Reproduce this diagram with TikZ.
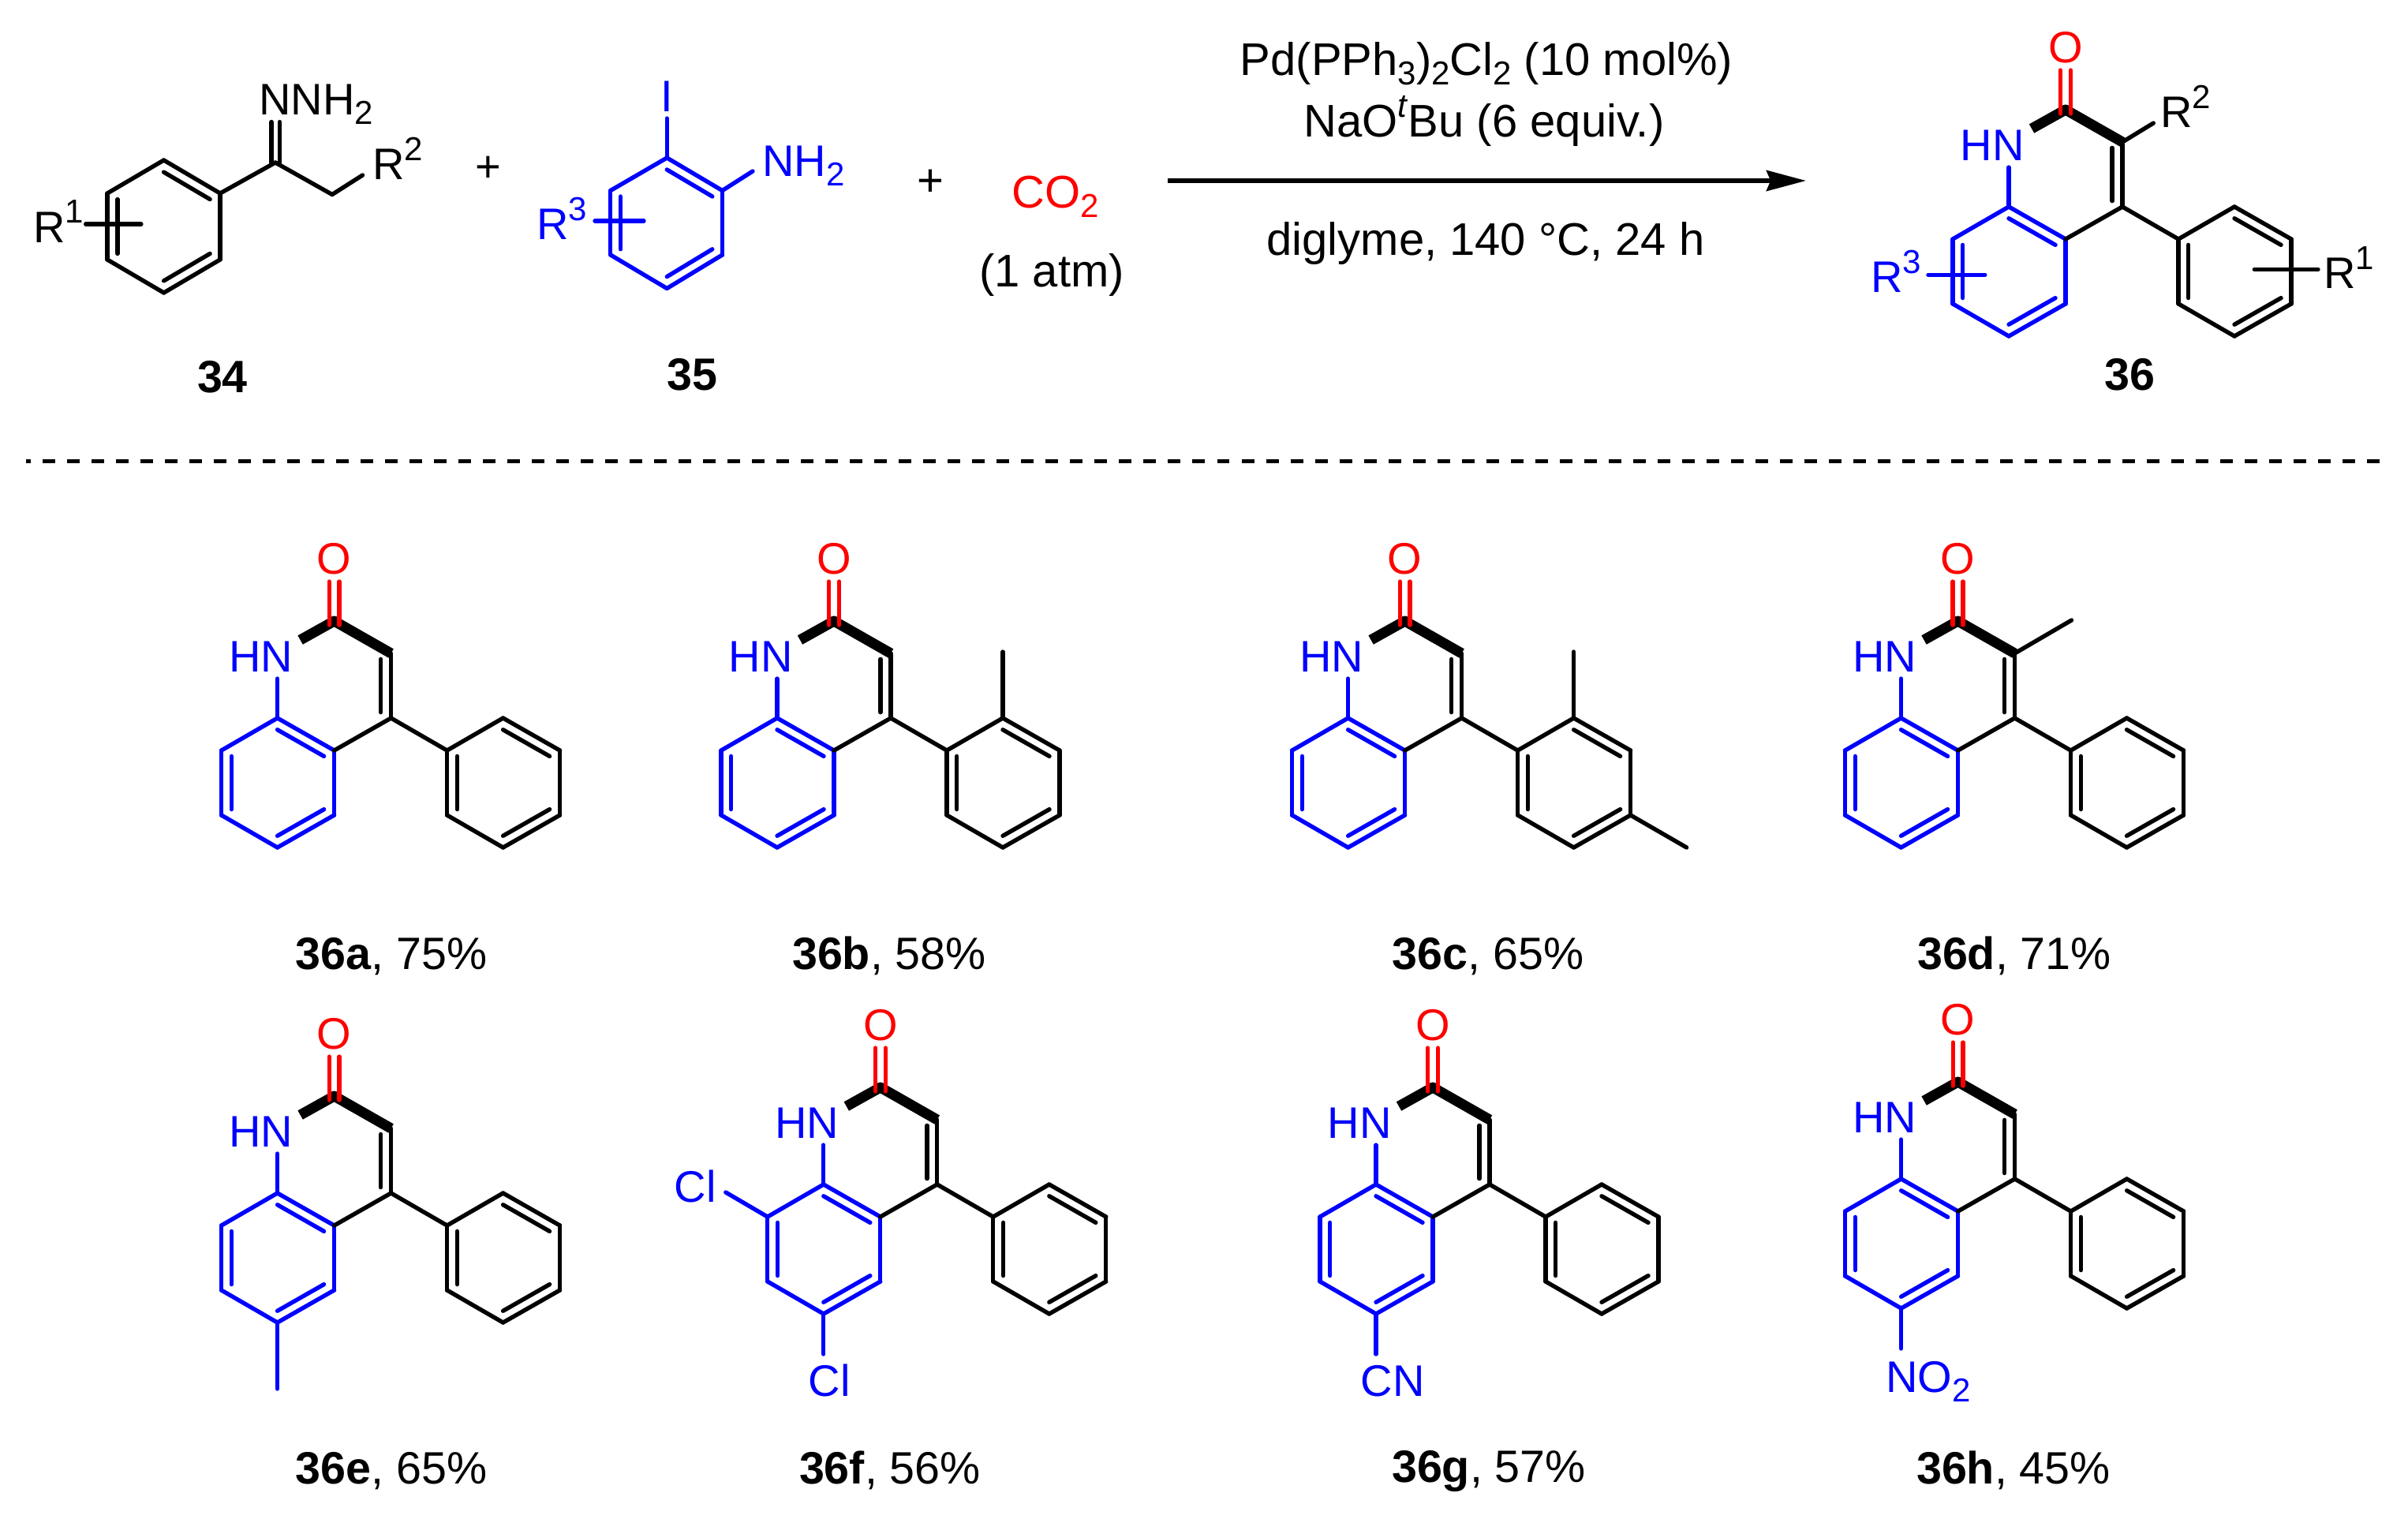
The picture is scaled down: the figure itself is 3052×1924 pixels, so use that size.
\documentclass[tikz,border=0pt]{standalone}
\usepackage{fontspec}
\setmainfont{Liberation Sans}
\usetikzlibrary{calc}
\usetikzlibrary{arrows.meta}
\newcommand{\atomfont}{\fontsize{31.87}{36}\selectfont}
\newcommand{\condfont}{\fontsize{33}{38}\selectfont}
\newcommand{\capfont}{\fontsize{32.7}{38}\selectfont}
\newcommand{\chsub}[1]{\raisebox{-7.1pt}{\fontsize{23.9}{26}\selectfont #1}}
\newcommand{\chsup}[1]{\raisebox{13.7pt}{\fontsize{23.9}{26}\selectfont #1}}
\tikzstyle{bond}=[draw,line width=3.05pt,line cap=round,line join=round]
\tikzstyle{boldbond}=[draw,line width=7.4pt,line join=round]
\tikzstyle{atom}=[font=\atomfont,inner sep=0pt,anchor=base]
\tikzstyle{atomw}=[font=\atomfont,inner sep=0pt,anchor=base west]
\tikzstyle{cond}=[font=\condfont,inner sep=0pt,anchor=base]
\tikzstyle{caption}=[font=\capfont,inner sep=0pt,anchor=base]

\begin{document}
\begin{tikzpicture}[x=0.02cm,y=-0.02cm]
    \useasboundingbox (0,0) rectangle (3052,1924);

    % The quinolinone, drawn once for the product and once for each entry
    \foreach \dx/\dy/\id in {2618/139/p, 423.6/787/a, 1057/787/b, 1780.6/787/c, 2481.5/787/d, 423.6/1389/e, 1115.8/1378/f, 1816/1378/g, 2481.6/1371/h}{
    \begin{scope}[shift={(\dx,\dy)},name prefix=\id-]
    \foreach \pos/\name in {{(0,0)/C2}, {(72,41)/C3}, {(72,123)/C4}, {(0,164)/C4a}, {(-72,123)/C8a}, {(-143,164)/C8}, {(-143,246)/C7}, {(-72,287)/C6}, {(0,246)/C5}, {(-72,73)/Nb}, {(-43,24)/Nw}, {(-72,205)/Rb}, {(0,82)/Rp}, {(143,164)/Pi}, {(214,123)/Po}, {(286,164)/Pm}, {(286,246)/Pp}, {(214,287)/Pn}, {(143,246)/Pq}, {(214,205)/Rf}, {(-6.4,-50)/Oa}, {(-6.4,5)/Ob}, {(6.4,-50)/Oc}, {(6.4,5)/Od}}
        \node[coordinate] (\name) at \pos {};

    \node[atom,blue] (HN) at (-93,64) {HN};
    \node[atom,red] (O) at (0,-60) {O};

    % Connect the vertices, inner lines of the double bonds last
    \foreach \source/\dest in {C4a/C8a, C8a/C8, C8/C7, C7/C6, C6/C5, C5/C4a, C8a/Nb}
        \path[bond,blue] (\source) -- (\dest);
    \foreach \source/\dest/\ring in {C8a/C4a/Rb, C8/C7/Rb, C6/C5/Rb}
        \path[bond,blue] ($(\source)!.18!(\ring)$) -- ($(\dest)!.18!(\ring)$);
    \foreach \source/\dest in {C3/C4, C4/C4a, C4/Pi, Pi/Po, Po/Pm, Pm/Pp, Pp/Pn, Pn/Pq, Pq/Pi}
        \path[bond] (\source) -- (\dest);
    \foreach \source/\dest/\ring in {C3/C4/Rp, Pi/Pq/Rf, Po/Pm/Rf, Pp/Pn/Rf}
        \path[bond] ($(\source)!.18!(\ring)$) -- ($(\dest)!.18!(\ring)$);
    \path[boldbond] (Nw) -- (C2) -- (C3);
    \path[bond,red] (Oa) -- (Ob);
    \path[bond,red] (Oc) -- (Od);
    \end{scope}
    }

    % Substituents of the entries
    \foreach \source/\ox/\oy/\col in {b-Po/0/-84/black, c-Po/0/-84/black, c-Pp/71/41/black, d-C3/72/-42/black, e-C6/0/84/blue, f-C8/-53/-31/blue, f-C6/0/51/blue, g-C6/0/51/blue, h-C6/0/51/blue}{
        \coordinate (\source-end) at ($(\source)+(\ox,\oy)$);
        \path[bond,\col] (\source) -- (\source-end);
    }
    \node[atom,blue] (Clo) at (881,1523) {Cl};
    \node[atom,blue] (Clp) at (1051,1769) {Cl};
    \node[atom,blue] (CN) at (1765,1769) {CN};
    \node[atomw,blue] (NOtwo) at (2390,1764) {NO\chsub{2}};

    % Hydrazone
    \foreach \pos/\name in {{(207.6,203)/A1}, {(279,245)/A2}, {(279,329)/A3}, {(207.6,371)/A4}, {(136,329)/A5}, {(136,245)/A6}, {(207.6,287)/Ra}, {(349,206)/A7}, {(421,246.5)/A8}, {(459.5,222)/A9}, {(344,154.5)/A10}, {(344,206)/A11}, {(354.5,154.5)/A12}, {(354.5,206)/A13}, {(108.7,284)/A14}, {(178.9,284)/A15}}
        \node[coordinate] (\name) at \pos {};
    \foreach \source/\dest in {A1/A2, A2/A3, A3/A4, A4/A5, A5/A6, A6/A1, A2/A7, A7/A8, A8/A9, A10/A11, A12/A13, A14/A15}
        \path[bond] (\source) -- (\dest);
    \foreach \source/\dest in {A1/A2, A3/A4, A5/A6}
        \path[bond] ($(\source)!.18!(Ra)$) -- ($(\dest)!.18!(Ra)$);
    \node[atomw] (NNHtwo) at (328,145.5) {NNH\chsub{2}};
    \node[atomw] (Rtwoa) at (472,227.6) {R\chsup{2}};
    \node[atomw] (Ronea) at (42,307) {R\chsup{1}};

    % Iodoaniline
    \foreach \pos/\name in {{(845.3,200)/B1}, {(915.5,241.5)/B2}, {(915.5,323)/B3}, {(845.3,365.5)/B4}, {(773.8,323)/B5}, {(773.8,241.5)/B6}, {(845,283)/Rc}, {(845.3,150)/B7}, {(954,217)/B8}, {(754,280)/B9}, {(816,280)/B10}}
        \node[coordinate] (\name) at \pos {};
    \foreach \source/\dest in {B1/B2, B2/B3, B3/B4, B4/B5, B5/B6, B6/B1, B1/B7, B2/B8, B9/B10}
        \path[bond,blue] (\source) -- (\dest);
    \foreach \source/\dest in {B1/B2, B3/B4, B5/B6}
        \path[bond,blue] ($(\source)!.18!(Rc)$) -- ($(\dest)!.18!(Rc)$);
    \node[atom,blue] (Iod) at (845,141) {I};
    \node[atomw,blue] (NHtwo) at (966,223.4) {NH\chsub{2}};
    \node[atomw,blue] (Rthreea) at (680,303.4) {R\chsup{3}};

    % Substituents of the product
    \foreach \pos/\name in {{(2729.3,156)/D1}, {(2857.3,341.4)/D2}, {(2938,341.4)/D3}, {(2443.9,348.3)/D4}, {(2515.8,348.3)/D5}}
        \node[coordinate] (\name) at \pos {};
    \path[bond] (p-C3) -- (D1);
    \path[bond] (D2) -- (D3);
    \path[bond,blue] (D4) -- (D5);
    \node[atomw] (Rtwob) at (2738,161.4) {R\chsup{2}};
    \node[atomw] (Roneb) at (2945,365.5) {R\chsup{1}};
    \node[atomw,blue] (Rthreeb) at (2371,370.7) {R\chsup{3}};

    % Plus signs, carbon dioxide, arrow and conditions
    \node[atom] (plusa) at (618.7,230.6) {+};
    \node[cond] (plusb) at (1179,248.6) {+};
    \node[cond,red] (COtwo) at (1338,263) {CO\chsub{2}};
    \node[cond] (atm) at (1333,363) {(1 atm)};
    \coordinate (arrowa) at (1480,229);
    \coordinate (arrowb) at (2289,229);
    \draw[line width=3.2pt,-{Stealth[length=28.5pt,width=14.8pt,inset=3pt]}] (arrowa) -- (arrowb);
    \node[cond] (catal) at (1884,95) {Pd(PPh\chsub{3})\chsub{2}Cl\chsub{2} (10 mol\%)};
    \node[cond] (base) at (1881,173) {NaO\chsup{\textit{t}}Bu (6 equiv.)};
    \node[cond] (solv) at (1883,323) {diglyme, 140 °C, 24 h};

    % Compound numbers and yields
    \foreach \px/\py/\name in {282/497/34, 877/494.5/35, 2699/494.5/36}
        \node[caption] (lab\name) at (\px,\py) {\textbf{\name}};
    \foreach \px/\py/\id/\yld in {496/1228/a/75, 1127/1228/b/58, 1886/1228/c/65, 2553/1228/d/71, 496/1880/e/65, 1128/1880/f/56, 1887/1878/g/57, 2552/1880/h/45}
        \node[caption] (lab\id) at (\px,\py) {\textbf{36\id}, \yld\%};

    % Separating line
    \coordinate (sepa) at (33,584);
    \coordinate (sepb) at (3024,584);
    \draw[line width=2.85pt,dash pattern=on 9.1pt off 8.55pt,dash phase=5.7pt] (sepa) -- (sepb);
\end{tikzpicture}
\end{document}
